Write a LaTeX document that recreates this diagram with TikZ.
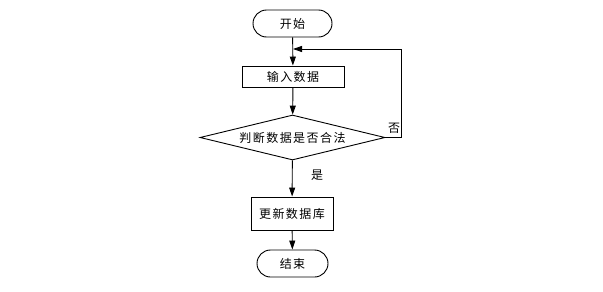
\documentclass[tikz,border=0pt]{standalone}
\usepackage{fontspec}
\newfontfamily\cjk[LetterSpace=12]{Noto Sans CJK SC}
\usetikzlibrary{shapes.geometric,shapes.misc,arrows.meta}
\begin{document}
\begin{tikzpicture}[x=1pt,y=-1pt,
  every node/.style={font=\cjk\fontsize{12}{14}\selectfont},
  term/.style={draw,line width=0.9pt,rounded rectangle,minimum width=79pt,minimum height=27pt,inner sep=0pt},
  procbox/.style={draw,line width=0.9pt,rectangle,inner sep=0pt},
  decide/.style={draw,line width=0.9pt,diamond,aspect=4.1,minimum width=185pt,minimum height=45pt,inner sep=0pt},
  flow/.style={line width=0.9pt,-{Triangle[length=9pt,width=6pt]}},
  lbl/.style={inner sep=0pt}]
\useasboundingbox (0,0) rectangle (603,292);
\node[term] (start) at (292.5,23.5) {开始};
\node[procbox,minimum width=102pt,minimum height=21pt] (input) at (293,76.5) {输入数据};
\node[decide] (check) at (292.5,137.5) {判断数据是否合法};
\node[procbox,minimum width=82pt,minimum height=33pt] (update) at (292,213.5) {更新数据库};
\node[term,minimum width=71pt] (stop) at (292.5,263.5) {结束};
\coordinate (loopin) at (293,49);
\coordinate (loopR) at (401,137.5);
\coordinate (loopT) at (401,49);
\draw[flow] (start) -- (input);
\draw[flow] (input) -- (check);
\draw[flow] (check) -- (update);
\draw[flow] (update) -- (stop);
\draw[flow] (check.east) -- (loopR) -- (loopT) -- (loopin);
\node[lbl] (no) at (394,128) {否};
\node[lbl] (yes) at (317,175) {是};
\end{tikzpicture}
\end{document}
